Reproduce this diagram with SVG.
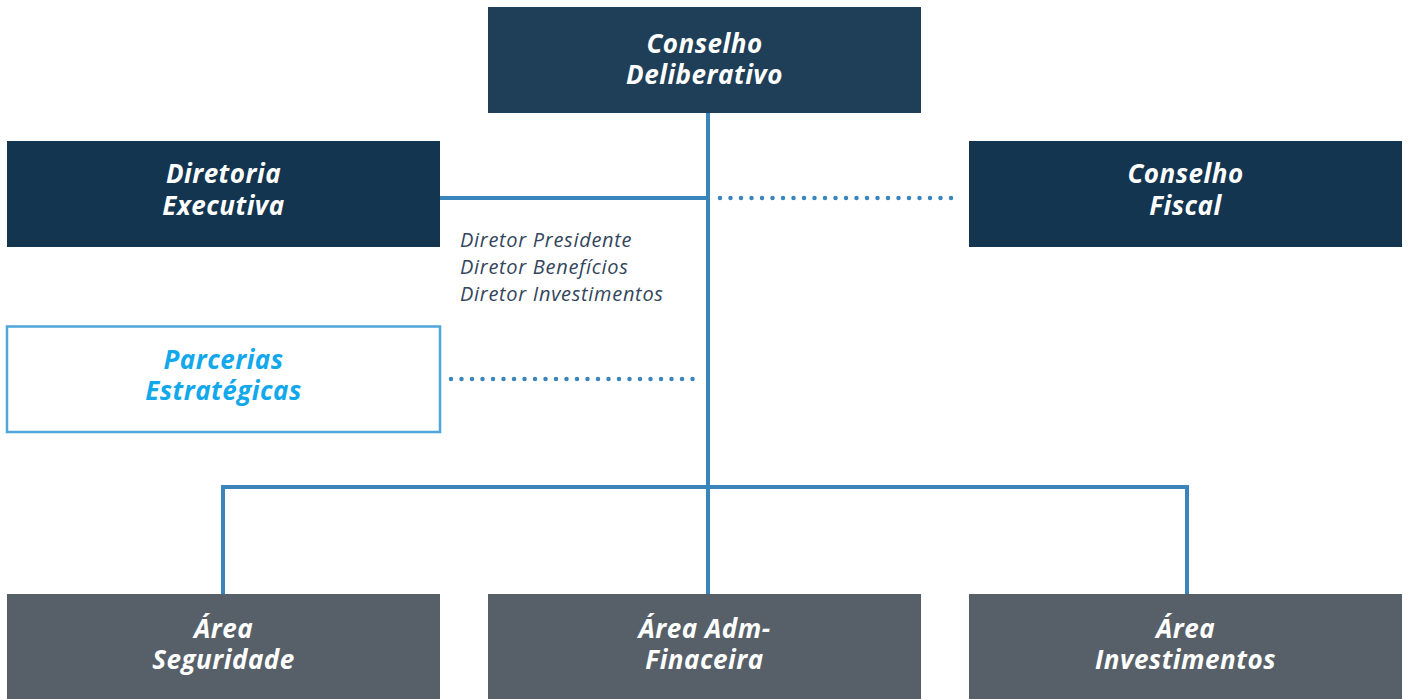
<svg xmlns="http://www.w3.org/2000/svg" width="1408" height="699" viewBox="0 0 1408 699">
<style>
.t{font-family:"Open Sans",Lato,sans-serif;font-weight:bold;font-style:italic;font-size:26px;letter-spacing:0.5px;text-anchor:middle;fill:#ffffff}
.sub{font-family:"Open Sans",Lato,sans-serif;font-style:italic;font-size:20px;letter-spacing:0.7px;fill:#33465c}
.ln{stroke:#3a85bb;stroke-width:4;fill:none}
.dot{stroke:#3a85bb;stroke-width:4.5;stroke-linecap:round;stroke-dasharray:0 10.5;fill:none}
</style>
<rect width="1408" height="699" fill="#ffffff"/>
<g id="connectors">
<line class="ln" x1="708" y1="113" x2="708" y2="594"/>
<line class="ln" x1="440" y1="198" x2="708" y2="198"/>
<polyline class="ln" points="223,594 223,487 1187,487 1187,594"/>
<line class="dot" x1="720" y1="198" x2="956" y2="198"/>
<line class="dot" x1="451" y1="379" x2="696" y2="379"/>
</g>
<g id="conselho-deliberativo">
<rect x="488" y="7" width="433" height="106" fill="#1f3f58"/>
<text class="t" x="704.5" y="53">Conselho</text>
<text class="t" x="704.5" y="84">Deliberativo</text>
</g>
<g id="diretoria-executiva">
<rect x="7" y="141" width="433" height="106" fill="#133550"/>
<text class="t" x="223.5" y="183">Diretoria</text>
<text class="t" x="223.5" y="215">Executiva</text>
</g>
<g id="diretores">
<text class="sub" x="460" y="247">Diretor Presidente</text>
<text class="sub" x="460" y="274">Diretor Benefícios</text>
<text class="sub" x="460" y="301">Diretor Investimentos</text>
</g>
<g id="conselho-fiscal">
<rect x="969" y="141" width="433" height="106" fill="#133550"/>
<text class="t" x="1185.5" y="183">Conselho</text>
<text class="t" x="1185.5" y="215">Fiscal</text>
</g>
<g id="parcerias">
<rect x="7" y="326.5" width="433" height="105.5" fill="#ffffff" stroke="#4ea6da" stroke-width="2.5"/>
<text class="t" x="223.5" y="369" style="fill:#12a8ec">Parcerias</text>
<text class="t" x="223.5" y="400" style="fill:#12a8ec">Estratégicas</text>
</g>
<g id="area-seguridade">
<rect x="7" y="594" width="433" height="105" fill="#576069"/>
<text class="t" x="223.5" y="638">Área</text>
<text class="t" x="223.5" y="669">Seguridade</text>
</g>
<g id="area-adm-financeira">
<rect x="488" y="594" width="433" height="105" fill="#576069"/>
<text class="t" x="704.5" y="638">Área Adm-</text>
<text class="t" x="704.5" y="669">Finaceira</text>
</g>
<g id="area-investimentos">
<rect x="969" y="594" width="433" height="105" fill="#576069"/>
<text class="t" x="1185.5" y="638">Área</text>
<text class="t" x="1185.5" y="669">Investimentos</text>
</g>
</svg>
